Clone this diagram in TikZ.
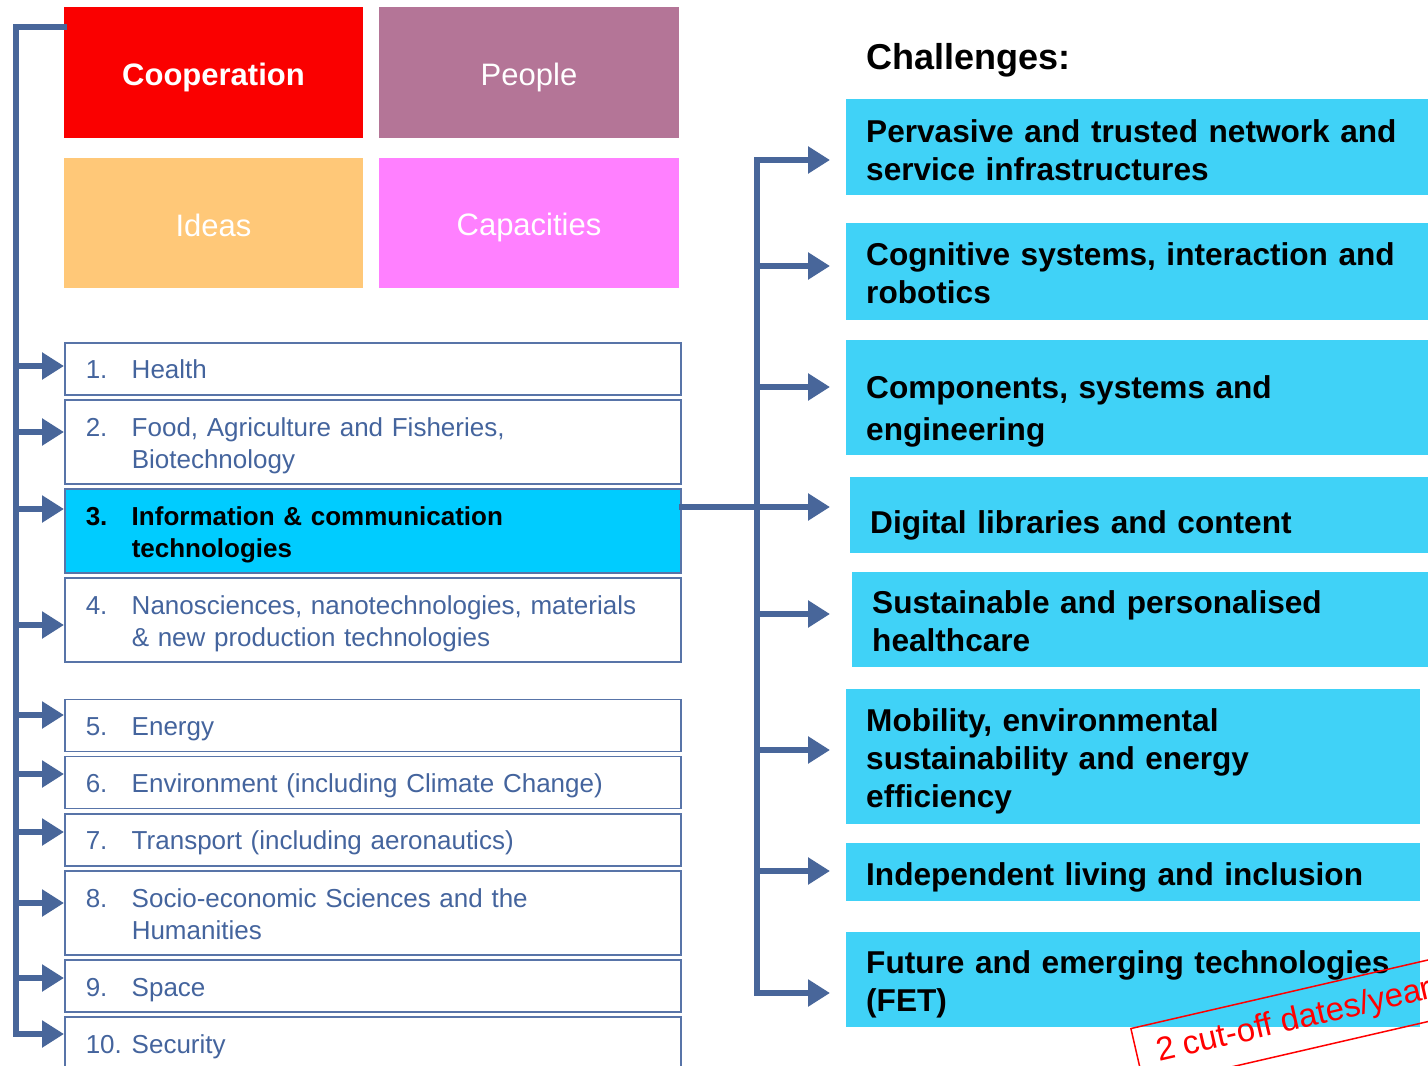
\documentclass[tikz,border=0pt]{standalone}
\usepackage{fontspec}
\setmainfont{Liberation Sans}
\usepackage{xcolor}
\usepackage{tikz}
\usetikzlibrary{positioning,arrows.meta}

\definecolor{barblue}{HTML}{48669A}
\definecolor{listblue}{HTML}{44649D}
\definecolor{rimblue}{HTML}{5874A8}
\definecolor{coopred}{HTML}{FA0000}
\definecolor{peoplemauve}{HTML}{B47597}
\definecolor{ideasorange}{HTML}{FFC878}
\definecolor{capapink}{HTML}{FF80FF}
\definecolor{ictcyan}{HTML}{00CCFF}
\definecolor{chblue}{HTML}{40D2F7}

\newcommand{\topicrow}[2]{\begin{tabular}{@{}p{46pt}@{}l@{}}\rule{0pt}{30pt}#1 & #2\end{tabular}}

\begin{document}
\begin{tikzpicture}[
    x=1pt, y=-1pt,
    node distance=3.6pt,
    pillar/.style={rectangle, minimum width=299pt, minimum height=131pt, text=white, font=\fontsize{31}{37}\selectfont},
    theme/.style={rectangle, draw=rimblue, line width=1.5pt, text width=574pt, inner xsep=21pt, inner ysep=0pt, align=left, text=listblue, font=\fontsize{26}{32}\selectfont},
    challenge/.style={rectangle, fill=chblue, anchor=north west, inner xsep=20pt, inner ysep=0pt, align=left, font=\bfseries\fontsize{31.6}{38}\selectfont},
    spine/.style={barblue, line width=6pt, line cap=rect},
    feed/.style={barblue, line width=6pt, -{Triangle[length=22pt,width=26pt]}}
]
\useasboundingbox (0,0) rectangle (1428,1066);
\clip (0,0) rectangle (1428,1066);

% FP7 programmes
\node (coop) [pillar, fill=coopred, font=\bfseries\fontsize{31}{37}\selectfont] at (213.5,72.5) {\rule{0pt}{33pt}Cooperation};
\node (people) [pillar, fill=peoplemauve, minimum width=300pt] at (529,72.5) {\rule{0pt}{33pt}People};
\node (ideas) [pillar, fill=ideasorange, minimum height=130pt] at (213.5,223) {\rule{0pt}{27pt}Ideas};
\node (capacities) [pillar, fill=capapink, minimum width=300pt, minimum height=130pt] at (529,223) {\rule{0pt}{31pt}Capacities};

% Cooperation themes
\node (health) [theme, minimum height=52pt, anchor=north west] at (64,342) {\topicrow{1.}{Health}};
\node (food) [theme, minimum height=84pt, below=of health] {\topicrow{2.}{Food, Agriculture and Fisheries,\\ & Biotechnology}};
\node (ict) [theme, fill=ictcyan, text=black, minimum height=84pt, font=\bfseries\fontsize{26}{32}\selectfont, below=of food] {\topicrow{3.}{Information \& communication\\ & technologies}};
\node (nano) [theme, minimum height=84pt, below=of ict] {\topicrow{4.}{Nanosciences, nanotechnologies, materials\\ & \& new production technologies}};
\node (energy) [theme, minimum height=52pt, below=36pt of nano] {\topicrow{5.}{Energy}};
\node (climate) [theme, minimum height=52pt, below=of energy] {\topicrow{6.}{Environment (including Climate Change)}};
\node (transport) [theme, minimum height=52pt, below=of climate] {\topicrow{7.}{Transport (including aeronautics)}};
\node (ssh) [theme, minimum height=84pt, below=of transport] {\topicrow{8.}{Socio-economic Sciences and the\\ & Humanities}};
\node (space) [theme, minimum height=52pt, below=of ssh] {\topicrow{9.}{Space}};
\node (security) [theme, minimum height=52pt, below=of space] {\topicrow{10.}{Security}};

% ICT challenges
\node (heading) [anchor=west, inner sep=0pt, font=\bfseries\fontsize{36}{42}\selectfont] at (866,60) {Challenges:};
\node (pervasive) [challenge, text width=542pt, minimum height=96pt] at (846,99) {\rule{0pt}{29pt}Pervasive and trusted network and\\service infrastructures};
\node (cognitive) [challenge, text width=542pt, minimum height=97pt] at (846,223) {\rule{0pt}{26pt}Cognitive systems, interaction and\\robotics};
\node (components) [challenge, text width=542pt, minimum height=115pt] at (846,340) {\rule{0pt}{50pt}Components,\ systems and\\[4pt]engineering};
\node (digital) [challenge, text width=538pt, minimum height=76pt] at (850,477) {\rule{0pt}{44pt}Digital\ libraries and content};
\node (healthcare) [challenge, text width=536pt, minimum height=95pt] at (852,572) {\rule{0pt}{26pt}Sustainable and personalised\\healthcare};
\node (mobility) [challenge, text width=534pt, minimum height=135pt] at (846,689) {\rule{0pt}{32pt}Mobility, environmental\\sustainability and energy\\efficiency};
\node (inclusion) [challenge, text width=534pt, minimum height=58pt] at (846,843) {\rule{0pt}{34pt}Independent living and inclusion};
\node (fet) [challenge, text width=534pt, minimum height=95pt] at (846,932) {\rule{0pt}{33pt}Future and emerging technologies\\(FET)};

% FET note
\node (cutoff) [anchor=north west, rotate=13, draw=red, line width=1.5pt, text=red, minimum height=60pt, inner xsep=20pt, font=\fontsize{33}{39}\selectfont] at (1130,1028) {2 cut-off dates/year};

% Left bracket: Cooperation to its themes
\coordinate (lhead) at (16,27);
\coordinate (lfoot) at (16,1034);
\draw [spine] (coop.west |- lhead) -- (lhead) -- (lfoot);
\foreach \n/\y in {health/366, food/432, ict/509, nano/625, energy/715, climate/774, transport/832, ssh/903, space/978, security/1034} {
  \coordinate (tap) at (16,\y);
  \draw [feed] (tap) -- (tap -| \n.west);
}

% Right bracket: ICT to its challenges
\coordinate (rtop) at (757,160);
\coordinate (rfoot) at (757,993);
\coordinate (rhub) at (757,507);
\draw [spine] (rtop) -- (rfoot);
\draw [spine] (ict.east |- rhub) -- (rhub);
\foreach \n/\y/\s in {pervasive/160/16, cognitive/266/16, components/387/16, digital/507/20, healthcare/614/22, mobility/750/16, inclusion/871/16, fet/993/16} {
  \coordinate (tap) at (757,\y);
  \draw [feed, shorten >=\s pt] (tap) -- (tap -| \n.west);
}

\end{tikzpicture}
\end{document}
